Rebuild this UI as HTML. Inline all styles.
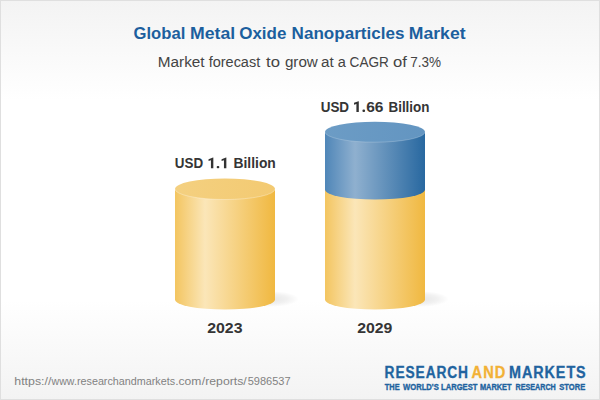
<!DOCTYPE html>
<html><head><meta charset="utf-8">
<style>
html,body{margin:0;padding:0;}
body{width:600px;height:400px;overflow:hidden;position:relative;font-family:"Liberation Sans",sans-serif;
background:linear-gradient(to bottom,#f3f3f3 0px,#ffffff 100px,#ffffff 300px,#f3f3f3 400px);
}
.frame{position:absolute;left:0;top:0;width:598px;height:398px;border:1px solid #dfdfdf;}
.t{position:absolute;left:0;top:0;white-space:nowrap;line-height:1;transform-origin:0 0;}
svg{position:absolute;left:0;top:0;}
.title{font-size:17.0px;font-weight:bold;color:#1c5f9e;letter-spacing:0px;-webkit-text-stroke:0px #1c5f9e;}
#title0{transform:translate(133.54px,24.91px) scaleX(0.9781);}
#title1{transform:translate(190.03px,24.91px) scaleX(1.0394);}
#title2{transform:translate(239.24px,24.91px) scaleX(0.9980);}
#title3{transform:translate(291.57px,24.91px) scaleX(1.0043);}
#title4{transform:translate(408.82px,24.91px) scaleX(1.0351);}
.sub{font-size:14.9px;font-weight:normal;color:#444444;letter-spacing:0px;-webkit-text-stroke:0px #444444;}
#sub0{transform:translate(157.80px,54.99px) scaleX(1.0281);}
#sub1{transform:translate(208.65px,54.99px) scaleX(0.9734);}
#sub2{transform:translate(266.01px,54.99px) scaleX(1.1200);}
#sub3{transform:translate(284.88px,54.99px) scaleX(1.0195);}
#sub4{transform:translate(321.11px,54.99px) scaleX(1.0226);}
#sub5{transform:translate(337.77px,54.99px) scaleX(0.9768);}
#sub6{transform:translate(349.60px,54.99px) scaleX(0.9118);}
#sub7{transform:translate(393.10px,54.99px) scaleX(1.1148);}
#sub8{transform:translate(410.23px,54.99px) scaleX(0.9080);}
.l1{font-size:15px;font-weight:bold;color:#353535;letter-spacing:0px;-webkit-text-stroke:0px #353535;}
#l10{transform:translate(174.85px,155.00px) scaleX(0.8948);}
#l11{transform:translate(233.52px,155.00px) scaleX(0.9230);}
.l2{font-size:15px;font-weight:bold;color:#353535;letter-spacing:0px;-webkit-text-stroke:0px #353535;}
#l20{transform:translate(320.67px,99.30px) scaleX(0.8974);}
#l21{transform:translate(366.16px,99.30px) scaleX(1.0375);}
#l22{transform:translate(388.46px,99.30px) scaleX(0.8949);}
.y1{font-size:15px;font-weight:bold;color:#353535;letter-spacing:0px;-webkit-text-stroke:0px #353535;}
#y10{transform:translate(207.21px,320.30px) scaleX(1.0580);}
.y2{font-size:15px;font-weight:bold;color:#353535;letter-spacing:0px;-webkit-text-stroke:0px #353535;}
#y20{transform:translate(357.16px,320.30px) scaleX(1.0542);}
.url{font-size:11.7px;font-weight:normal;color:#828282;letter-spacing:0px;-webkit-text-stroke:0px #828282;}
#url0{transform:translate(14.33px,375.10px) scaleX(1.0545);}
#url1{transform:translate(51.60px,375.10px) scaleX(0.9037);}
#url2{transform:translate(76.94px,375.10px) scaleX(0.9211);}
#url3{transform:translate(175.20px,375.10px) scaleX(1.0350);}
#url4{transform:translate(201.87px,375.10px) scaleX(1.0446);}
#url5{transform:translate(247.73px,375.10px) scaleX(0.9416);}
.lg{font-size:15.6px;font-weight:bold;color:#21639f;letter-spacing:1.0px;-webkit-text-stroke:0.3px #21639f;}
#lg0{transform:translate(384.62px,364.79px) scaleX(0.8827);}
#lg1{transform:translate(471.62px,364.79px) scaleX(0.9386);color:#f2b136;-webkit-text-stroke-color:#f2b136;}
#lg2{transform:translate(509.01px,364.79px) scaleX(0.9227);}
.tag{font-size:8.8px;font-weight:bold;color:#21639f;letter-spacing:0px;-webkit-text-stroke:0.35px #21639f;}
#tag0{transform:translate(384.81px,382.55px) scaleX(0.8418);}
#tag1{transform:translate(403.01px,382.55px) scaleX(0.8681);}
#tag2{transform:translate(441.07px,382.55px) scaleX(0.8644);}
#tag3{transform:translate(479.89px,382.55px) scaleX(0.8422);}
#tag4{transform:translate(515.46px,382.55px) scaleX(0.8167);}
#tag5{transform:translate(559.29px,382.55px) scaleX(0.8605);}
</style></head><body>
<svg width="600" height="400" viewBox="0 0 600 400">
<defs>
<linearGradient id="gy" x1="0" x2="1" y1="0" y2="0">
<stop offset="0" stop-color="#f3c560"/><stop offset="0.3" stop-color="#fbe6b8"/><stop offset="1" stop-color="#f0b840"/>
</linearGradient>
<linearGradient id="gyt" x1="0" x2="1" y1="0" y2="0">
<stop offset="0" stop-color="#f4d080"/><stop offset="1" stop-color="#f3ca72"/>
</linearGradient>
<linearGradient id="gb" x1="0" x2="1" y1="0" y2="0">
<stop offset="0" stop-color="#4f86b8"/><stop offset="0.3" stop-color="#8fb0cf"/><stop offset="1" stop-color="#2868a0"/>
</linearGradient>
<linearGradient id="gbt" x1="0" x2="1" y1="0" y2="0">
<stop offset="0" stop-color="#6c9cc5"/><stop offset="1" stop-color="#6395c1"/>
</linearGradient>
<radialGradient id="sh"><stop offset="0" stop-color="#000" stop-opacity="0.10"/><stop offset="0.6" stop-color="#000" stop-opacity="0.055"/><stop offset="1" stop-color="#000" stop-opacity="0"/></radialGradient>
</defs>
<ellipse cx="270" cy="299" rx="29" ry="8" fill="url(#sh)"/>
<ellipse cx="420" cy="299" rx="29" ry="8" fill="url(#sh)"/>
<path d="M175 189 L175 299.6 A50 10 0 0 0 275 299.6 L275 189 Z" fill="url(#gy)"/>
<ellipse cx="225" cy="189" rx="50" ry="10.5" fill="url(#gyt)"/>
<path d="M175 189 A50 10.5 0 0 0 275 189" fill="none" stroke="#fff" stroke-opacity="0.3" stroke-width="1"/>
<path d="M325 189 L325 299.6 A50 10 0 0 0 425 299.6 L425 189 Z" fill="url(#gy)"/>
<path d="M325 132 L325 189.6 A50 10 0 0 0 425 189.6 L425 132 Z" fill="url(#gb)"/>
<ellipse cx="375" cy="132" rx="50" ry="10.2" fill="url(#gbt)"/>
<path d="M325 132 A50 10.2 0 0 0 425 132" fill="none" stroke="#fff" stroke-opacity="0.2" stroke-width="1"/>
<g fill="#333333"><path d="M213.33 168.30 H210.93 V160.24 L208.55 161.00 V159.15 L213.03 157.58 H213.33 Z"/><rect x="216.70" y="165.90" width="2.6" height="2.4" rx="1"/><path d="M226.35 168.30 H223.95 V160.24 L221.57 161.00 V159.15 L226.05 157.58 H226.35 Z"/><path d="M358.80 112.00 H356.40 V103.94 L354.02 104.70 V102.85 L358.50 101.28 H358.80 Z"/><rect x="362.45" y="109.60" width="2.6" height="2.4" rx="1"/></g>
</svg>

<div class="t title" id="title0">Global</div>
<div class="t title" id="title1">Metal</div>
<div class="t title" id="title2">Oxide</div>
<div class="t title" id="title3">Nanoparticles</div>
<div class="t title" id="title4">Market</div>
<div class="t sub" id="sub0">Market</div>
<div class="t sub" id="sub1">forecast</div>
<div class="t sub" id="sub2">to</div>
<div class="t sub" id="sub3">grow</div>
<div class="t sub" id="sub4">at</div>
<div class="t sub" id="sub5">a</div>
<div class="t sub" id="sub6">CAGR</div>
<div class="t sub" id="sub7">of</div>
<div class="t sub" id="sub8">7.3%</div>
<div class="t l1" id="l10">USD</div>
<div class="t l1" id="l11">Billion</div>
<div class="t l2" id="l20">USD</div>
<div class="t l2" id="l21">66</div>
<div class="t l2" id="l22">Billion</div>
<div class="t y1" id="y10">2023</div>
<div class="t y2" id="y20">2029</div>
<div class="t url" id="url0">https://</div>
<div class="t url" id="url1">www.</div>
<div class="t url" id="url2">researchandmarkets</div>
<div class="t url" id="url3">.com</div>
<div class="t url" id="url4">/reports/</div>
<div class="t url" id="url5">5986537</div>
<div class="t lg" id="lg0">RESEARCH</div>
<div class="t lg" id="lg1">AND</div>
<div class="t lg" id="lg2">MARKETS</div>
<div class="t tag" id="tag0">THE</div>
<div class="t tag" id="tag1">WORLD'S</div>
<div class="t tag" id="tag2">LARGEST</div>
<div class="t tag" id="tag3">MARKET</div>
<div class="t tag" id="tag4">RESEARCH</div>
<div class="t tag" id="tag5">STORE</div>
<div class="frame"></div>
</body></html>
